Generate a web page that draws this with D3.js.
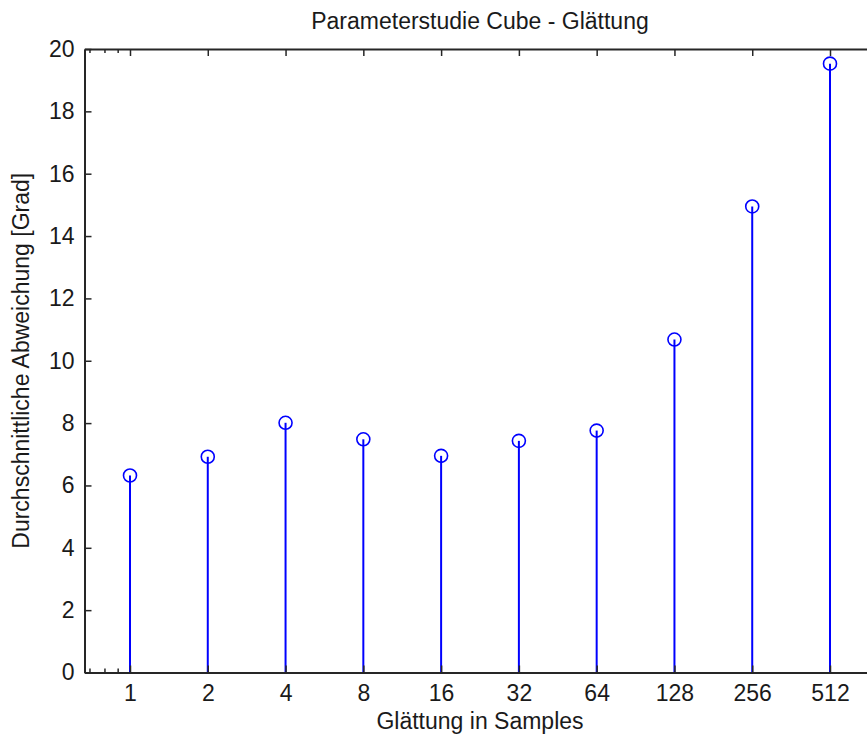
<!DOCTYPE html>
<html>
<head>
<meta charset="utf-8">
<script src="https://cdn.jsdelivr.net/npm/d3@7"></script>
<style>
  body { margin: 0; background: #fff; }
  svg { display: block; font-family: "Liberation Sans", Arial, sans-serif; }
</style>
</head>
<body>
<div id="chart"></div>
<script>
const samples = [1, 2, 4, 8, 16, 32, 64, 128, 256, 512];
const deviation = [6.32, 6.92, 8.01, 7.48, 6.95, 7.43, 7.76, 10.68, 14.95, 19.53];
const yTicks = [0, 2, 4, 6, 8, 10, 12, 14, 16, 18, 20];
const minorTicks = [0.7, 0.8, 0.9];
const xLimits = [2 / 3, 768];
const yLimits = [0, 20];

const w = 867, h = 738;
const plotLeft = 84.5, plotRight = 875.5, plotTop = 49, plotBottom = 672.5;
const fontSize = 23;
const axisColor = "#262626";
const stemColor = "#0000ff";

const svg = d3.select("#chart").append("svg")
  .attr("width", w)
  .attr("height", h);

const xScale = d3.scaleLog().base(2).domain(xLimits).range([plotLeft, plotRight]);
const yScale = d3.scaleLinear().domain(yLimits).range([plotBottom, plotTop]);

// stems
svg.append("g")
  .selectAll("line")
  .data(samples)
  .enter()
  .append("line")
  .attr("x1", d => xScale(d))
  .attr("x2", d => xScale(d))
  .attr("y1", yScale(0))
  .attr("y2", (d, i) => yScale(deviation[i]))
  .attr("stroke", stemColor)
  .attr("stroke-width", 2);

// axes (ticks pointing inward, like matlab)
const xBottom = d3.axisBottom(xScale).tickValues(samples).tickFormat(d3.format("d")).tickSize(-7).tickPadding(12).tickSizeOuter(0);
const xTop = d3.axisTop(xScale).tickValues(samples).tickFormat("").tickSize(-7).tickSizeOuter(0);
const yLeft = d3.axisLeft(yScale).tickValues(yTicks).tickFormat(d3.format("d")).tickSize(-7).tickPadding(10).tickSizeOuter(0);

function styleAxis(g) {
  g.select(".domain").attr("stroke", axisColor).attr("stroke-width", 2);
  g.selectAll(".tick line").attr("stroke", axisColor).attr("stroke-width", 1.5);
  g.selectAll(".tick text")
    .attr("fill", "#1a1a1a")
    .style("font-size", fontSize + "px")
    .style("font-family", "'Liberation Sans', Arial, sans-serif");
}

svg.append("g")
  .attr("transform", "translate(0," + plotBottom + ")")
  .call(xBottom)
  .call(styleAxis);

svg.append("g")
  .attr("transform", "translate(0," + plotTop + ")")
  .call(xTop)
  .call(styleAxis);

svg.append("g")
  .attr("transform", "translate(" + plotLeft + ",0)")
  .call(yLeft)
  .call(styleAxis);

// minor log ticks below 1
[plotTop, plotBottom].forEach(function (yy) {
  const dir = yy === plotTop ? 1 : -1;
  svg.append("g")
    .selectAll("line")
    .data(minorTicks)
    .enter()
    .append("line")
    .attr("x1", d => xScale(d))
    .attr("x2", d => xScale(d))
    .attr("y1", yy)
    .attr("y2", yy + dir * 4)
    .attr("stroke", axisColor)
    .attr("stroke-width", 1.5);
});

// markers
svg.append("g")
  .selectAll("circle")
  .data(samples)
  .enter()
  .append("circle")
  .attr("cx", d => xScale(d))
  .attr("cy", (d, i) => yScale(deviation[i]))
  .attr("r", 6.5)
  .attr("fill", "none")
  .attr("stroke", stemColor)
  .attr("stroke-width", 1.6);

// labels
svg.append("text")
  .attr("x", (plotLeft + plotRight) / 2)
  .attr("y", 29)
  .attr("text-anchor", "middle")
  .attr("fill", "#1a1a1a")
  .style("font-size", fontSize + "px")
  .text("Parameterstudie Cube - Glättung");

svg.append("text")
  .attr("x", (plotLeft + plotRight) / 2)
  .attr("y", 729)
  .attr("text-anchor", "middle")
  .attr("fill", "#1a1a1a")
  .style("font-size", fontSize + "px")
  .text("Glättung in Samples");

svg.append("text")
  .attr("transform", "translate(29," + ((plotTop + plotBottom) / 2) + ") rotate(-90)")
  .attr("text-anchor", "middle")
  .attr("fill", "#1a1a1a")
  .style("font-size", fontSize + "px")
  .text("Durchschnittliche Abweichung [Grad]");
</script>
</body>
</html>
